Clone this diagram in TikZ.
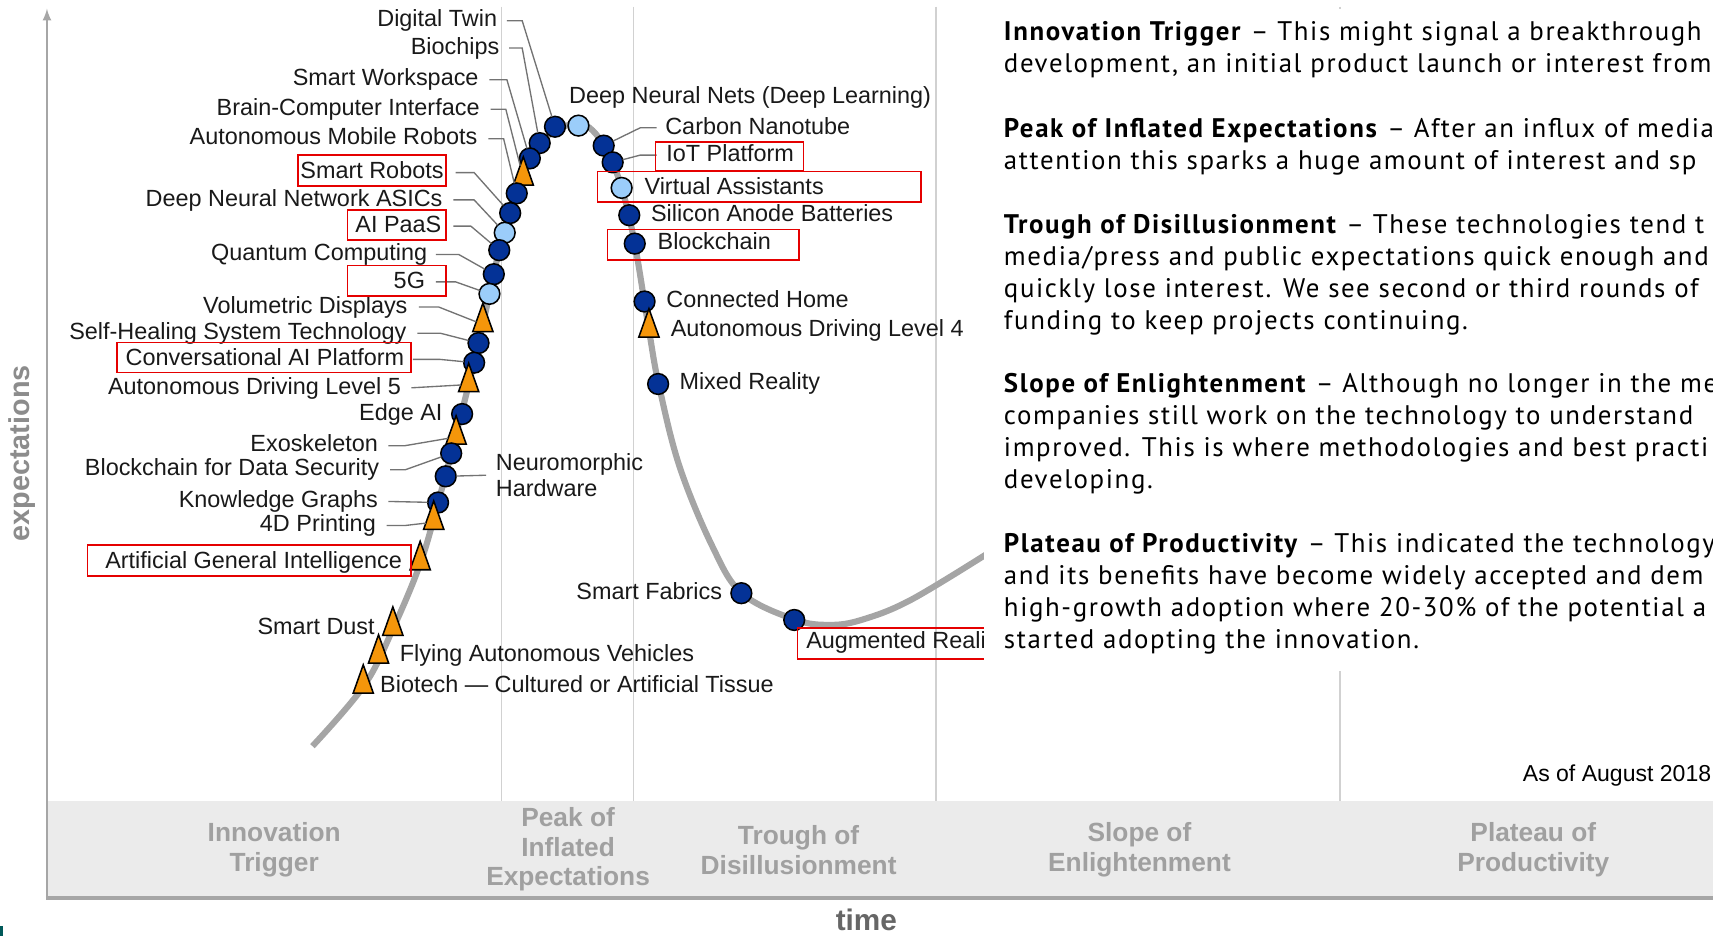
\documentclass[tikz,border=0pt]{standalone}
\usepackage{fontspec}
\setmainfont{Liberation Sans}
\newfontfamily\ptsans[LetterSpace=6]{PT Sans}
\usetikzlibrary{positioning,shapes.geometric}

\definecolor{hdark}{RGB}{4,50,150}
\definecolor{hlight}{RGB}{155,205,250}
\definecolor{horange}{RGB}{245,150,10}
\definecolor{hcurve}{RGB}{165,165,165}
\definecolor{hband}{RGB}{235,235,235}
\definecolor{hphase}{RGB}{160,160,160}

\begin{document}
\begin{tikzpicture}[x=0.02cm,y=-0.02cm,every node/.style={inner sep=0pt,outer sep=0pt},]

\tikzstyle{dot}=[circle,draw=black,line width=0.8pt,fill=hdark,minimum size=0.38cm]
\tikzstyle{pale}=[dot,fill=hlight]
\tikzstyle{tri}=[isosceles triangle,isosceles triangle stretches,shape border rotate=90,draw=black,line width=0.8pt,fill=horange,minimum width=0.37cm,minimum height=0.52cm]
\tikzstyle{tech}=[font=\fontsize{12.2}{14}\selectfont,text=black!90,text height=9pt,text depth=2.5pt]
\tikzstyle{leader}=[draw=black!55,line width=0.7pt]
\tikzstyle{hilite}=[draw=red!90!black,line width=0.9pt]
\tikzstyle{divider}=[draw=black!18,line width=0.8pt]
\tikzstyle{phase}=[font=\fontsize{13.7}{15.4}\selectfont\bfseries,text=hphase,align=center]
\tikzstyle{note}=[font=\ptsans\fontsize{14}{16.68}\selectfont,align=left]

\useasboundingbox (0,0) rectangle (1568,857);
\clip (0,0) rectangle (1568,857);

% phase band and axes
\fill[hband] (43,733) rectangle (1568,822);
\draw[divider] (459,6) -- (459,733);
\draw[divider] (580,6) -- (580,733);
\draw[divider] (857,6) -- (857,733);
\draw[divider] (1226.5,6) -- (1226.5,733);
\draw[draw=black!35,line width=1.6pt] (42,822) -- (1568,822);
\draw[draw=black!35,line width=1.1pt,-latex] (43,822) -- (43,8);
\fill[teal!70!black] (0,848) rectangle (2.5,857);

\node[font=\fontsize{15}{17}\selectfont\bfseries,text=black!45,rotate=90] (ylab) at (20,415) {expectations};
\node[font=\fontsize{15.5}{17}\selectfont\bfseries,text=black!60] (xlab) at (793,842) {time};

\node[phase] (trigP) at (251,778) {Innovation\\Trigger};
\node[phase] (peakP) at (520,777.5) {Peak of\\Inflated\\Expectations};
\node[phase] (troughP) at (731,778) {Trough of\\Disillusionment};
\node[phase] (slopeP) at (1043,778) {Slope of\\Enlightenment};
\node[phase] (plateauP) at (1403.5,778) {Plateau of\\Productivity};

% the hype curve
\draw[draw=hcurve,line width=3.2pt] plot[smooth,tension=0.6] coordinates {(286,683) (333,628) (360,575) (385,515) (401,460) (413,415) (429,352) (442,297) (457,229) (473,177) (494,131) (529.5,113) (553,133) (569,172) (581,223) (594,302) (603,352) (622,427) (652,500) (679,543) (727,567) (760,572) (790,567) (834,549) (905,506)};

% rising slope
\node[dot] (twin) at (508,116) {};
\node[dot] (biochips) at (494,131) {};
\node[dot] (workspace) at (485,145) {};
\node[tri] (bci) at (479,163) {};
\node[dot] (amr) at (473,177) {};
\node[dot] (robots) at (467,195) {};
\node[pale] (asics) at (462,213) {};
\node[dot] (paas) at (457,229) {};
\node[dot] (quantum) at (452,251) {};
\node[pale] (fiveg) at (448,269) {};
\node[tri] (volumetric) at (442,297) {};
\node[dot] (selfheal) at (438,314) {};
\node[dot] (convai) at (434,332) {};
\node[tri] (adl5) at (429,352) {};
\node[dot] (edgeai) at (423,379) {};
\node[tri] (exo) at (417.5,400) {};
\node[dot] (bcsec) at (413,415) {};
\node[dot] (neuro) at (408,436) {};
\node[dot] (kgraph) at (401,460) {};
\node[tri] (print4d) at (397,478) {};
\node[tri] (agi) at (384.6,515) {};
\node[tri] (dust) at (359.6,575) {};
\node[tri] (flying) at (346.5,600.5) {};
\node[tri] (biotech) at (332.5,628) {};

% peak and slide into the trough
\node[pale] (dnn) at (529.5,115) {};
\node[dot] (nanotube) at (552.6,133.3) {};
\node[dot] (iot) at (560.8,148.6) {};
\node[pale] (assist) at (569,172) {};
\node[dot] (anode) at (576,197) {};
\node[dot] (chain) at (581,223) {};
\node[dot] (home) at (590,276) {};
\node[tri] (adl4) at (594,302) {};
\node[dot] (mixed) at (602.4,351.5) {};
\node[dot] (fabrics) at (678.6,543) {};
\node[dot] (ar) at (727,567.5) {};

% labels left of the curve
\node[tech,anchor=east] (twinT) at (455,19) {Digital Twin};
\node[tech,anchor=east] (biochipsT) at (457,44) {Biochips};
\node[tech,anchor=east] (workspaceT) at (438,73) {Smart Workspace};
\node[tech,anchor=east] (bciT) at (439,100) {Brain-Computer Interface};
\node[tech,anchor=east] (amrT) at (437,127) {Autonomous Mobile Robots};
\node[tech,anchor=east] (robotsT) at (406,158) {Smart Robots};
\node[tech,anchor=east] (asicsT) at (405,183) {Deep Neural Network ASICs};
\node[tech,anchor=east] (paasT) at (404,207) {AI PaaS};
\node[tech,anchor=east] (quantumT) at (391,233) {Quantum Computing};
\node[tech,anchor=east] (fivegT) at (389,258) {5G};
\node[tech,anchor=east] (volumetricT) at (373,281) {Volumetric Displays};
\node[tech,anchor=east] (selfhealT) at (372,305) {Self-Healing System Technology};
\node[tech,anchor=east] (convaiT) at (370,329) {Conversational AI Platform};
\node[tech,anchor=east] (adl5T) at (367,355) {Autonomous Driving Level 5};
\node[tech,anchor=east] (edgeaiT) at (405,379) {Edge AI};
\node[tech,anchor=east] (exoT) at (346,408) {Exoskeleton};
\node[tech,anchor=east] (bcsecT) at (347,430) {Blockchain for Data Security};
\node[tech,anchor=east] (kgraphT) at (346,459) {Knowledge Graphs};
\node[tech,anchor=east] (print4dT) at (344,481) {4D Printing};
\node[tech,anchor=east] (agiT) at (368,515) {Artificial General Intelligence};
\node[tech,anchor=east] (dustT) at (343,575) {Smart Dust};
\node[tech,anchor=east] (fabricsT) at (661,543) {Smart Fabrics};

% labels right of the curve
\node[tech,anchor=west,align=left,font=\fontsize{12.2}{13.4}\selectfont,text height=,text depth=] (neuroT) at (454,435) {Neuromorphic\\Hardware};
\node[tech,anchor=west] (flyingT) at (366,600) {Flying Autonomous Vehicles};
\node[tech,anchor=west] (biotechT) at (348,628) {Biotech --- Cultured or Artificial Tissue};
\node[tech,anchor=west] (dnnT) at (521,89) {Deep Neural Nets (Deep Learning)};
\node[tech,anchor=west] (nanotubeT) at (609,117) {Carbon Nanotube};
\node[tech,anchor=west] (iotT) at (610,142) {IoT Platform};
\node[tech,anchor=west] (assistT) at (590,172) {Virtual Assistants};
\node[tech,anchor=west] (anodeT) at (596,197) {Silicon Anode Batteries};
\node[tech,anchor=west] (chainT) at (602,223) {Blockchain};
\node[tech,anchor=west] (homeT) at (610,276) {Connected Home};
\node[tech,anchor=west] (adl4T) at (614,302) {Autonomous Driving Level 4};
\node[tech,anchor=west] (mixedT) at (622,351) {Mixed Reality};
\node[tech,anchor=west] (arT) at (738,588) {Augmented Reality};

% leaders
\draw[leader] ([xshift=0.18cm]twinT.east) -- ++(14,0) -- (twin);
\draw[leader] ([xshift=0.18cm]biochipsT.east) -- ++(12,0) -- (biochips);
\draw[leader] ([xshift=0.2cm]workspaceT.east) -- ++(16,0) -- (workspace);
\draw[leader] ([xshift=0.2cm]bciT.east) -- ++(14,0) -- (bci);
\draw[leader] ([xshift=0.2cm]amrT.east) -- ++(14,0) -- (amr);
\draw[leader] ([xshift=0.22cm]robotsT.east) -- ++(17,0) -- (robots);
\draw[leader] ([xshift=0.2cm]asicsT.east) -- ++(19,0) -- (asics);
\draw[leader] ([xshift=0.22cm]paasT.east) -- ++(16,0) -- (paas);
\draw[leader] ([xshift=0.16cm]quantumT.east) -- ++(21,0) -- (quantum);
\draw[leader] ([xshift=0.2cm]fivegT.east) -- ++(18,0) -- (fiveg);
\draw[leader] ([xshift=0.21cm]volumetricT.east) -- ++(18,0) -- (volumetric);
\draw[leader] ([xshift=0.2cm]selfhealT.east) -- ++(21,0) -- (selfheal);
\draw[leader] ([xshift=0.16cm]convaiT.east) -- ++(25,0) -- (convai);
\draw[leader] ([xshift=0.19cm]adl5T.east) -- (adl5);
\draw[leader] ([xshift=0.19cm]exoT.east) -- ++(15,0) -- (exo);
\draw[leader] ([xshift=0.2cm]bcsecT.east) -- ++(14,0) -- (bcsec);
\draw[leader] ([xshift=0.19cm]kgraphT.east) -- (kgraph);
\draw[leader] ([xshift=0.2cm]print4dT.east) -- ++(17,0) -- (print4d);
\draw[leader] (neuro) -- ([xshift=-0.18cm]neuroT.west);
\draw[leader] ([xshift=-0.16cm]nanotubeT.west) -- ++(-15,0) -- (nanotube);
\draw[leader] ([xshift=-0.18cm]iotT.west) -- ++(-15,0) -- (iot);

% highlighted entries
\draw[hilite] (273,142) rectangle (408,170);
\draw[hilite] (318,192) rectangle (408,220);
\draw[hilite] (318,243) rectangle (408,271);
\draw[hilite] (107,313.5) rectangle (376.5,341);
\draw[hilite] (80,499) rectangle (376.5,527);
\draw[hilite] (600,130) rectangle (735.5,156);
\draw[hilite] (547,157) rectangle (843,185);
\draw[hilite] (556,210) rectangle (731.5,238);
\draw[hilite] (730,575) rectangle (960,603.5);

% notes on each phase
\fill[white] (901,8) rectangle (1568,614);
\node[note,anchor=north west] (trigN) at (919,20) {\textbf{Innovation Trigger} \textendash{} This might signal a breakthrough\\development, an initial product launch or interest from};
\node[note,anchor=north west] (peakN) at (919,108) {\textbf{Peak of Inflated Expectations} \textendash{} After an influx of media\\attention this sparks a huge amount of interest and sp};
\node[note,anchor=north west] (troughN) at (919,196) {\textbf{Trough of Disillusionment} \textendash{} These technologies tend t\\media/press and public expectations quick enough and\\quickly lose interest. We see second or third rounds of\\funding to keep projects continuing.};
\node[note,anchor=north west] (slopeN) at (919,342) {\textbf{Slope of Enlightenment} \textendash{} Although no longer in the me\\companies still work on the technology to understand\\improved. This is where methodologies and best practi\\developing.};
\node[note,anchor=north west] (plateauN) at (919,488) {\textbf{Plateau of Productivity} \textendash{} This indicated the technology\\and its benefits have become widely accepted and dem\\high-growth adoption where 20-30\% of the potential a\\started adopting the innovation.};

\node[font=\fontsize{12}{14}\selectfont,anchor=west] (asof) at (1394,710) {As of August 2018};

\end{tikzpicture}
\end{document}
